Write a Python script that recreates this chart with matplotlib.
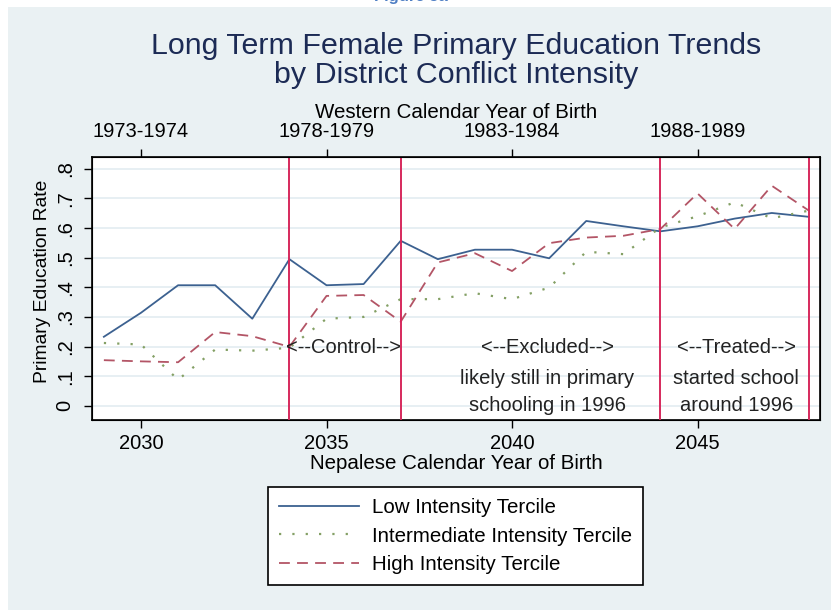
import numpy as np
import matplotlib
matplotlib.use("Agg")
import matplotlib.pyplot as plt
from matplotlib.patches import Rectangle

plt.rcParams['font.family'] = ['Liberation Sans', 'DejaVu Sans']

# Data
years = [2029, 2030, 2031, 2032, 2033, 2034, 2035, 2036, 2037, 2038,
         2039, 2040, 2041, 2042, 2043, 2044, 2045, 2046, 2047, 2048]
low = [0.233, 0.314, 0.407, 0.407, 0.294, 0.495, 0.407, 0.411, 0.557, 0.495,
       0.527, 0.527, 0.498, 0.624, 0.606, 0.589, 0.606, 0.632, 0.651, 0.638]
mid = [0.212, 0.207, 0.088, 0.190, 0.186, 0.196, 0.294, 0.300, 0.360, 0.360,
       0.380, 0.360, 0.399, 0.520, 0.512, 0.602, 0.640, 0.687, 0.633, 0.659]
high = [0.154, 0.150, 0.147, 0.249, 0.235, 0.199, 0.371, 0.374, 0.284, 0.484,
        0.515, 0.455, 0.549, 0.568, 0.574, 0.597, 0.717, 0.597, 0.743, 0.659]

cutoffs = [2034, 2037, 2044, 2048]
bottom_ticks = [2030, 2035, 2040, 2045]
top_labels = ['1973-1974', '1978-1979', '1983-1984', '1988-1989']
y_ticks = [0, .1, .2, .3, .4, .5, .6, .7, .8]
y_labels = ['0', '.1', '.2', '.3', '.4', '.5', '.6', '.7', '.8']

W, H = 831, 610
fig = plt.figure(figsize=(W / 100, H / 100), dpi=100, facecolor='white')

# light panel behind the graph
fig.patches.append(Rectangle((8 / W, 0), 1 - 8 / W, 1 - 7 / H, transform=fig.transFigure,
                             facecolor='#eaf1f3', edgecolor='none', zorder=-5))
fig.text(0.495, 1 + 4 / H, 'Figure 5a', color='#4f7fc4', fontsize=12, fontweight='bold',
         ha='center', va='center')

ax = fig.add_axes([92 / W, 1 - 420 / H, 728 / W, 263 / H])
ax.set_facecolor('white')

ax.plot(years, low, '-', color='#3c6190', lw=1.3, label='Low Intensity Tercile')
ax.plot(years, mid, linestyle=(0, (1, 5)), color='#84a065', lw=1.6,
        label='Intermediate Intensity Tercile')
ax.plot(years, high, linestyle=(0, (6, 4)), color='#b35566', lw=1.3,
        label='High Intensity Tercile')

for c in cutoffs:
    ax.axvline(c, color='#d6295c', lw=1.4, zorder=3)

ax.set_xlim(2028.68, 2048.3)
ax.set_ylim(-0.048, 0.84)
ax.set_yticks(y_ticks)
ax.set_yticklabels(y_labels, rotation=90, va='center', fontsize=14.5)
ax.yaxis.grid(True, color='#e3ecf1', lw=1.2)
ax.set_axisbelow(True)
ax.set_xticks(bottom_ticks)
ax.set_xticklabels([str(t) for t in bottom_ticks], fontsize=14.5)
ax.tick_params(axis='x', direction='out', length=5.5, width=1, pad=4.5)
ax.tick_params(axis='y', direction='out', length=5.5, width=1, pad=7)
ax.set_xlabel('Nepalese Calendar Year of Birth', fontsize=14.8, labelpad=1.0)
ax.set_ylabel('Primary Education Rate', fontsize=13.9)
ax.yaxis.set_label_coords(-0.056, 0.527)
for s in ax.spines.values():
    s.set_linewidth(1.2)

top = ax.twiny()
top.set_xlim(ax.get_xlim())
top.set_xticks(bottom_ticks)
top.set_xticklabels(top_labels, fontsize=14.5)
top.tick_params(axis='x', direction='out', length=5.5, width=1, pad=6)
top.set_xlabel('Western Calendar Year of Birth', fontsize=14.8, labelpad=3)

txt = dict(ha='center', va='center', fontsize=14.5, color='#222222')
ax.text(2035.46, 0.197, '<--Control-->', **txt)
ax.text(2040.95, 0.197, '<--Excluded-->', **txt)
ax.text(2040.95, 0.093, 'likely still in primary', **txt)
ax.text(2040.95, 0.0, 'schooling in 1996', **txt)
ax.text(2046.04, 0.197, '<--Treated-->', **txt)
ax.text(2046.04, 0.093, 'started school', **txt)
ax.text(2046.04, 0.0, 'around 1996', **txt)

fig.text(456 / W, 1 - 46 / H, 'Long Term Female Primary Education Trends',
         ha='center', va='center', fontsize=21.9, color='#1c2b55')
fig.text(456 / W, 1 - 75 / H, 'by District Conflict Intensity',
         ha='center', va='center', fontsize=21.9, color='#1c2b55')

leg = fig.legend(loc='center', bbox_to_anchor=(455.5 / W, 1 - 536 / H), ncol=1,
                 fontsize=14.8, frameon=True, fancybox=False, framealpha=1,
                 facecolor='white', handlelength=3.9,
                 borderpad=0.55, labelspacing=0.45, handletextpad=0.63)
leg.get_frame().set_edgecolor('black')
leg.get_frame().set_linewidth(1.2)

fig.savefig('out.png', dpi=100, facecolor=fig.get_facecolor())
